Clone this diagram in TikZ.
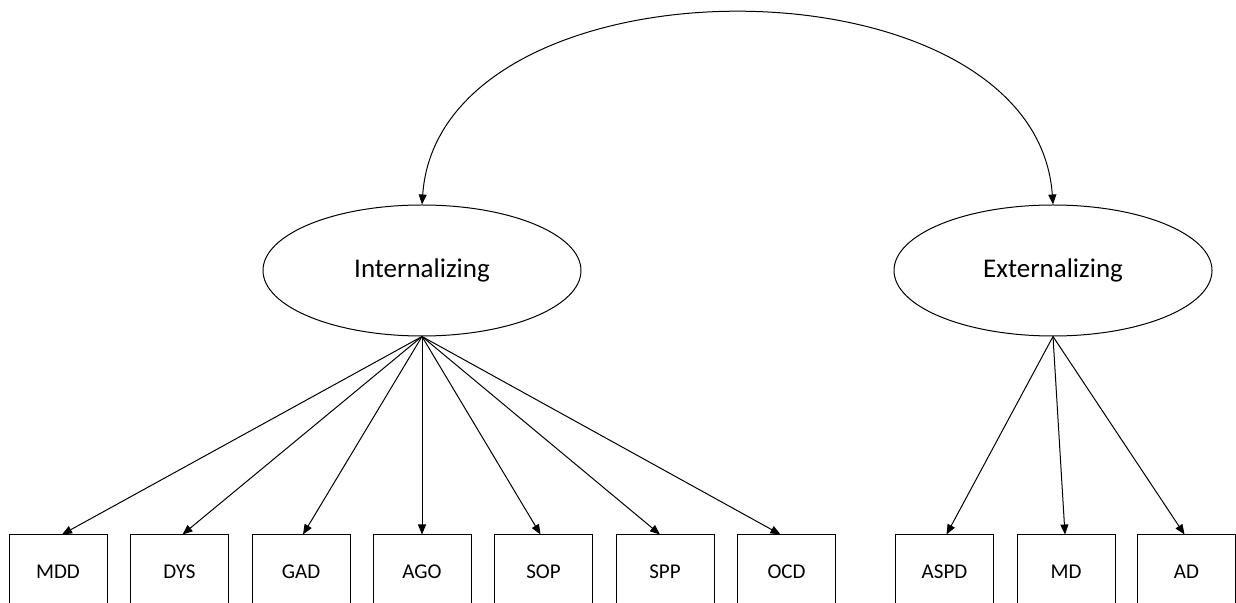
\documentclass[tikz,border=0pt]{standalone}
\usepackage{fontspec}
\setmainfont{Carlito}
\usetikzlibrary{shapes.geometric}
\usetikzlibrary{arrows.meta,arrows}
\usetikzlibrary{calc}

\tikzset{
    factor/.style={draw, ellipse, line width=0.5pt, minimum width=159pt,
        minimum height=65.5pt, inner sep=0pt, font=\fontsize{13.5}{16}\selectfont},
    indicator/.style={draw, rectangle, line width=0.5pt, minimum width=49pt,
        minimum height=37pt, inner sep=0pt, font=\fontsize{10.5}{12}\selectfont},
    load/.style={line width=0.5pt, -{Triangle[length=5pt, width=4pt]}}
}

\begin{document}
\begin{tikzpicture}[x=0.5pt, y=-0.5pt]

    \useasboundingbox (0,0) rectangle (1236,603);

    % Latent factors
    \node[factor] (int) at (422,270.5) {Internalizing};
    \node[factor] (ext) at (1053,270.5) {Externalizing};

    % Correlation
    \draw[line width=0.5pt, {Triangle[length=5pt, width=4pt]}-{Triangle[length=5pt, width=4pt]}]
        (int.north) .. controls (440,-50) and (1035,-50) .. (ext.north);

    % Internalizing indicators
    \node[indicator] (mdd) at (58,572) {MDD};
    \node[indicator] (dys) at (179.5,572) {DYS};
    \node[indicator] (gad) at (301,572) {GAD};
    \node[indicator] (ago) at (422,572) {AGO};
    \node[indicator] (sop) at (543.5,572) {SOP};
    \node[indicator] (spp) at (665,572) {SPP};
    \node[indicator] (ocd) at (786.5,572) {OCD};

    % Externalizing indicators
    \node[indicator] (aspd) at (944.5,572) {ASPD};
    \node[indicator] (md) at (1066,572) {MD};
    \node[indicator] (ad) at (1186.5,572) {AD};

    % Loadings
    \draw[load] (int.south) -- ($(mdd.north)+(4,0)$);
    \draw[load] (int.south) -- ($(dys.north)+(3,0)$);
    \draw[load] (int.south) -- ($(gad.north)+(2,0)$);
    \draw[load] (int.south) -- (ago.north);
    \draw[load] (int.south) -- ($(sop.north)+(-3,0)$);
    \draw[load] (int.south) -- ($(spp.north)+(-5,0)$);
    \draw[load] (int.south) -- ($(ocd.north)+(-6,0)$);

    \draw[load] (ext.south) -- ($(aspd.north)+(2,0)$);
    \draw[load] (ext.south) -- ($(md.north)+(-1,0)$);
    \draw[load] (ext.south) -- ($(ad.north)+(-2,0)$);

\end{tikzpicture}
\end{document}
